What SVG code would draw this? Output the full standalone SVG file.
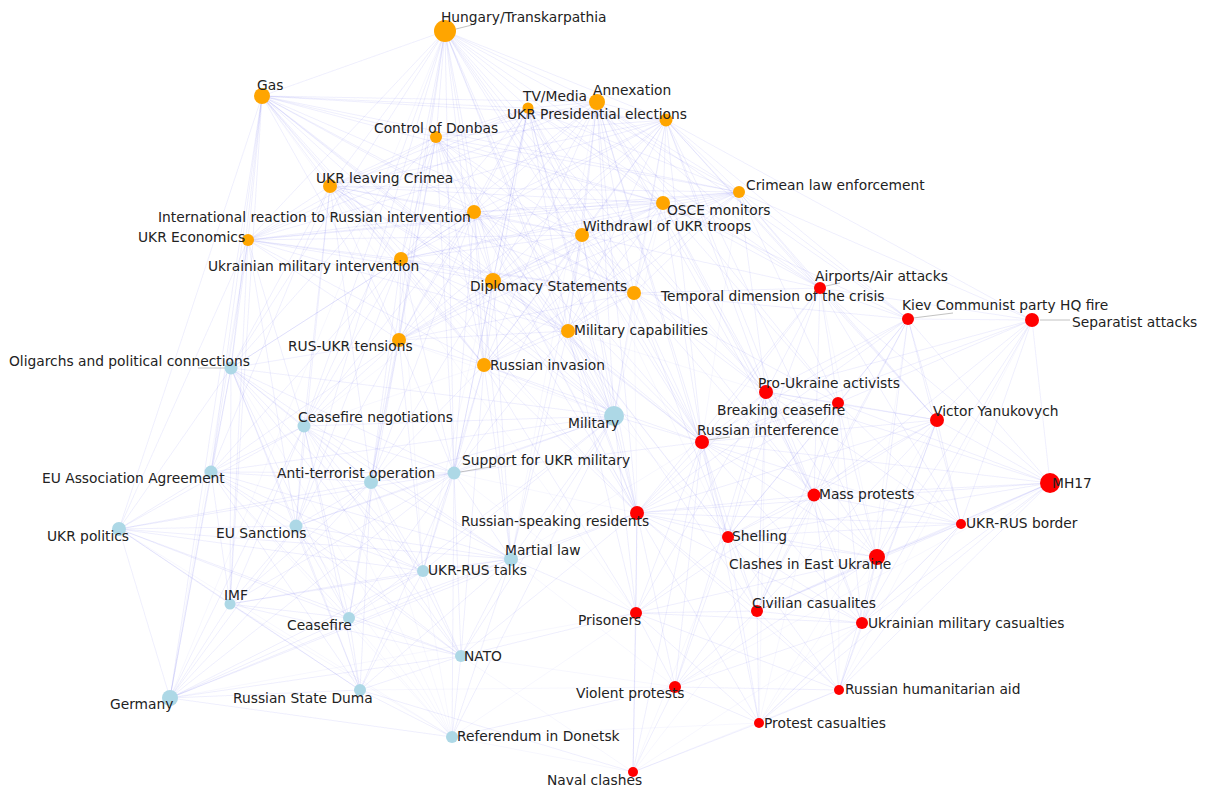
<svg xmlns="http://www.w3.org/2000/svg" width="1206" height="791" viewBox="0 0 1206 791">
<style>
.e{fill:none;stroke:#6a6af5;stroke-opacity:0.075;stroke-width:0.7;stroke-linejoin:round}
.ld{fill:none;stroke:#999;stroke-width:1;stroke-opacity:0.6}
.t{font-family:"DejaVu Sans","Liberation Sans",sans-serif;font-size:13.8px;fill:#222}
.o{fill:#FFA500}.r{fill:#FF0000}.b{fill:#ADD8E6}
</style>
<rect width="1206" height="791" fill="#fff"/>
<g id="connectors">
<path class="e" d="M445 31L262 96 445 31 528 108 445 31 597 102 445 31 666 120 445 31 436 137 445 31 330 186 445 31 739 192 445 31 474 212 445 31 663 203 445 31 248 240 445 31 582 235 445 31 401 259 445 31 493 281 445 31 634 293 445 31 568 331 445 31 399 340 445 31 484 365 445 31 231 368 445 31 614 416 445 31 304 426 445 31 454 473 445 31 371 482 445 31 296 526 445 31 702 442 445 31 637 513 445 31 766 392 445 31 820 288 445 31 814 495 445 31 170 698"/>
<path class="e" d="M262 96L528 108 262 96 597 102 262 96 666 120 262 96 436 137 262 96 330 186 262 96 739 192 262 96 474 212 262 96 663 203 262 96 248 240 262 96 582 235 262 96 401 259 262 96 493 281 262 96 634 293 262 96 568 331 262 96 399 340 262 96 484 365 262 96 231 368 262 96 211 472 262 96 119 529 262 96 230 604 262 96 170 698 262 96 614 416 262 96 637 513 262 96 702 442 262 96 636 613"/>
<path class="e" d="M528 108L597 102 528 108 666 120 528 108 436 137 528 108 330 186 528 108 739 192 528 108 474 212 528 108 663 203 528 108 248 240 528 108 582 235 528 108 401 259 528 108 493 281 528 108 634 293 528 108 568 331 528 108 399 340 528 108 484 365 528 108 820 288 528 108 766 392 528 108 702 442 528 108 637 513 528 108 614 416 528 108 454 473 528 108 423 571"/>
<path class="e" d="M597 102L666 120 597 102 436 137 597 102 330 186 597 102 739 192 597 102 474 212 597 102 663 203 597 102 248 240 597 102 582 235 597 102 401 259 597 102 493 281 597 102 634 293 597 102 568 331 597 102 399 340 597 102 484 365 597 102 820 288 597 102 908 319 597 102 766 392 597 102 838 403 597 102 702 442 597 102 814 495 597 102 637 513 597 102 728 537 597 102 614 416 597 102 511 559"/>
<path class="e" d="M666 120L436 137 666 120 330 186 666 120 739 192 666 120 474 212 666 120 663 203 666 120 248 240 666 120 582 235 666 120 401 259 666 120 493 281 666 120 634 293 666 120 568 331 666 120 399 340 666 120 484 365 666 120 820 288 666 120 908 319 666 120 1032 320 666 120 766 392 666 120 937 420 666 120 702 442 666 120 814 495 666 120 877 557 666 120 614 416"/>
<path class="e" d="M436 137L330 186 436 137 739 192 436 137 474 212 436 137 663 203 436 137 248 240 436 137 582 235 436 137 401 259 436 137 493 281 436 137 634 293 436 137 568 331 436 137 399 340 436 137 484 365 436 137 231 368 436 137 304 426 436 137 454 473 436 137 371 482 436 137 614 416 436 137 702 442 436 137 637 513"/>
<path class="e" d="M330 186L739 192 330 186 474 212 330 186 663 203 330 186 248 240 330 186 582 235 330 186 401 259 330 186 493 281 330 186 634 293 330 186 568 331 330 186 399 340 330 186 484 365 330 186 231 368 330 186 304 426 330 186 211 472 330 186 371 482 330 186 296 526 330 186 614 416 330 186 637 513"/>
<path class="e" d="M739 192L474 212 739 192 663 203 739 192 248 240 739 192 582 235 739 192 401 259 739 192 493 281 739 192 634 293 739 192 568 331 739 192 399 340 739 192 484 365 739 192 820 288 739 192 908 319 739 192 1032 320 739 192 766 392 739 192 838 403 739 192 937 420 739 192 702 442"/>
<path class="e" d="M474 212L663 203 474 212 248 240 474 212 582 235 474 212 401 259 474 212 493 281 474 212 634 293 474 212 568 331 474 212 399 340 474 212 484 365 474 212 231 368 474 212 614 416 474 212 304 426 474 212 454 473 474 212 371 482 474 212 511 559 474 212 702 442 474 212 637 513 474 212 728 537"/>
<path class="e" d="M663 203L248 240 663 203 582 235 663 203 401 259 663 203 493 281 663 203 634 293 663 203 568 331 663 203 399 340 663 203 484 365 663 203 820 288 663 203 908 319 663 203 766 392 663 203 838 403 663 203 702 442 663 203 814 495 663 203 614 416"/>
<path class="e" d="M248 240L582 235 248 240 401 259 248 240 493 281 248 240 634 293 248 240 568 331 248 240 399 340 248 240 484 365 248 240 231 368 248 240 304 426 248 240 211 472 248 240 119 529 248 240 296 526 248 240 230 604 248 240 170 698"/>
<path class="e" d="M582 235L401 259 582 235 493 281 582 235 634 293 582 235 568 331 582 235 399 340 582 235 484 365 582 235 820 288 582 235 766 392 582 235 702 442 582 235 637 513 582 235 614 416 582 235 454 473 582 235 511 559 582 235 728 537"/>
<path class="e" d="M401 259L493 281 401 259 634 293 401 259 568 331 401 259 399 340 401 259 484 365 401 259 231 368 401 259 304 426 401 259 211 472 401 259 371 482 401 259 296 526 401 259 454 473 401 259 614 416 401 259 423 571"/>
<path class="e" d="M493 281L634 293 493 281 568 331 493 281 399 340 493 281 484 365 493 281 614 416 493 281 454 473 493 281 371 482 493 281 511 559 493 281 702 442 493 281 637 513 493 281 304 426"/>
<path class="e" d="M634 293L568 331 634 293 399 340 634 293 484 365 634 293 820 288 634 293 908 319 634 293 766 392 634 293 838 403 634 293 702 442 634 293 814 495 634 293 728 537 634 293 614 416 634 293 637 513"/>
<path class="e" d="M568 331L399 340 568 331 484 365 568 331 614 416 568 331 454 473 568 331 511 559 568 331 702 442 568 331 637 513 568 331 728 537 568 331 757 611 568 331 636 613 568 331 766 392"/>
<path class="e" d="M399 340L484 365 399 340 231 368 399 340 304 426 399 340 211 472 399 340 371 482 399 340 296 526 399 340 423 571 399 340 349 618 399 340 454 473 399 340 614 416"/>
<path class="e" d="M484 365L614 416 484 365 454 473 484 365 371 482 484 365 511 559 484 365 423 571 484 365 461 656 484 365 702 442 484 365 637 513 484 365 636 613 484 365 304 426"/>
<path class="e" d="M820 288L908 319 820 288 1032 320 820 288 766 392 820 288 838 403 820 288 937 420 820 288 702 442 820 288 1050 483 820 288 814 495 820 288 637 513 820 288 961 524 820 288 728 537 820 288 877 557"/>
<path class="e" d="M908 319L1032 320 908 319 766 392 908 319 838 403 908 319 937 420 908 319 702 442 908 319 1050 483 908 319 814 495 908 319 637 513 908 319 961 524 908 319 728 537 908 319 877 557 908 319 757 611 908 319 862 623"/>
<path class="e" d="M1032 320L766 392 1032 320 838 403 1032 320 937 420 1032 320 702 442 1032 320 1050 483 1032 320 814 495 1032 320 961 524 1032 320 877 557 1032 320 862 623 1032 320 839 690"/>
<path class="e" d="M766 392L838 403 766 392 937 420 766 392 702 442 766 392 1050 483 766 392 814 495 766 392 637 513 766 392 961 524 766 392 728 537 766 392 877 557 766 392 757 611 766 392 636 613 766 392 862 623 766 392 675 687 766 392 759 723"/>
<path class="e" d="M838 403L937 420 838 403 702 442 838 403 1050 483 838 403 814 495 838 403 637 513 838 403 961 524 838 403 728 537 838 403 877 557 838 403 757 611 838 403 862 623 838 403 839 690"/>
<path class="e" d="M937 420L702 442 937 420 1050 483 937 420 814 495 937 420 637 513 937 420 961 524 937 420 728 537 937 420 877 557 937 420 757 611 937 420 862 623 937 420 839 690 937 420 759 723"/>
<path class="e" d="M702 442L1050 483 702 442 814 495 702 442 637 513 702 442 961 524 702 442 728 537 702 442 877 557 702 442 757 611 702 442 636 613 702 442 862 623 702 442 675 687 702 442 759 723 702 442 633 772 702 442 614 416 702 442 454 473 702 442 511 559"/>
<path class="e" d="M1050 483L814 495 1050 483 637 513 1050 483 961 524 1050 483 728 537 1050 483 877 557 1050 483 757 611 1050 483 862 623 1050 483 839 690 1050 483 759 723 1050 483 675 687"/>
<path class="e" d="M814 495L637 513 814 495 961 524 814 495 728 537 814 495 877 557 814 495 757 611 814 495 636 613 814 495 862 623 814 495 675 687 814 495 839 690 814 495 759 723"/>
<path class="e" d="M637 513L961 524 637 513 728 537 637 513 877 557 637 513 757 611 637 513 636 613 637 513 862 623 637 513 675 687 637 513 839 690 637 513 759 723 637 513 633 772 637 513 614 416 637 513 511 559 637 513 461 656 637 513 454 473"/>
<path class="e" d="M961 524L728 537 961 524 877 557 961 524 757 611 961 524 862 623 961 524 839 690 961 524 759 723"/>
<path class="e" d="M728 537L877 557 728 537 757 611 728 537 636 613 728 537 862 623 728 537 675 687 728 537 839 690 728 537 759 723 728 537 633 772"/>
<path class="e" d="M877 557L757 611 877 557 636 613 877 557 862 623 877 557 675 687 877 557 839 690 877 557 759 723"/>
<path class="e" d="M757 611L636 613 757 611 862 623 757 611 675 687 757 611 839 690 757 611 759 723 757 611 633 772"/>
<path class="e" d="M636 613L862 623 636 613 675 687 636 613 839 690 636 613 759 723 636 613 633 772 636 613 511 559 636 613 461 656 636 613 452 737"/>
<path class="e" d="M862 623L675 687 862 623 839 690 862 623 759 723 862 623 633 772"/>
<path class="e" d="M675 687L839 690 675 687 759 723 675 687 633 772 675 687 452 737 675 687 461 656"/>
<path class="e" d="M839 690L759 723 839 690 633 772"/>
<path class="e" d="M759 723L633 772 759 723 452 737"/>
<path class="e" d="M231 368L614 416 231 368 304 426 231 368 211 472 231 368 454 473 231 368 371 482 231 368 119 529 231 368 296 526 231 368 511 559 231 368 423 571 231 368 230 604 231 368 349 618 231 368 461 656 231 368 170 698 231 368 360 690 231 368 452 737"/>
<path class="e" d="M614 416L304 426 614 416 211 472 614 416 454 473 614 416 371 482 614 416 296 526 614 416 511 559 614 416 423 571 614 416 349 618 614 416 461 656 614 416 452 737 614 416 636 613 614 416 728 537"/>
<path class="e" d="M304 426L211 472 304 426 454 473 304 426 371 482 304 426 119 529 304 426 296 526 304 426 511 559 304 426 423 571 304 426 230 604 304 426 349 618 304 426 461 656 304 426 170 698 304 426 360 690 304 426 452 737"/>
<path class="e" d="M211 472L454 473 211 472 371 482 211 472 119 529 211 472 296 526 211 472 511 559 211 472 423 571 211 472 230 604 211 472 349 618 211 472 461 656 211 472 170 698 211 472 360 690 211 472 452 737"/>
<path class="e" d="M454 473L371 482 454 473 119 529 454 473 296 526 454 473 511 559 454 473 423 571 454 473 230 604 454 473 349 618 454 473 461 656 454 473 170 698 454 473 360 690 454 473 452 737 454 473 636 613"/>
<path class="e" d="M371 482L119 529 371 482 296 526 371 482 511 559 371 482 423 571 371 482 230 604 371 482 349 618 371 482 461 656 371 482 170 698 371 482 360 690 371 482 452 737"/>
<path class="e" d="M119 529L296 526 119 529 511 559 119 529 423 571 119 529 230 604 119 529 349 618 119 529 461 656 119 529 170 698 119 529 360 690 119 529 452 737"/>
<path class="e" d="M296 526L511 559 296 526 423 571 296 526 230 604 296 526 349 618 296 526 461 656 296 526 170 698 296 526 360 690 296 526 452 737"/>
<path class="e" d="M511 559L423 571 511 559 230 604 511 559 349 618 511 559 461 656 511 559 170 698 511 559 360 690 511 559 452 737 511 559 675 687"/>
<path class="e" d="M423 571L230 604 423 571 349 618 423 571 461 656 423 571 170 698 423 571 360 690 423 571 452 737"/>
<path class="e" d="M230 604L349 618 230 604 461 656 230 604 170 698 230 604 360 690 230 604 452 737"/>
<path class="e" d="M349 618L461 656 349 618 170 698 349 618 360 690 349 618 452 737"/>
<path class="e" d="M461 656L170 698 461 656 360 690 461 656 452 737 461 656 633 772"/>
<path class="e" d="M170 698L360 690 170 698 452 737 170 698 637 513 170 698 636 613"/>
<path class="e" d="M360 690L452 737 360 690 633 772 360 690 675 687"/>
<path class="e" d="M452 737L633 772"/>
<path class="ld" d="M456 29L472 25M913 318L953 313M1040 320L1070 320M826 286L840 283M198 368L226 368M460 472L496 466M708 440L730 437"/>
</g>
<g id="n-hungary"><circle class="o" cx="445" cy="31" r="11"/><text class="t" x="441" y="22">Hungary/Transkarpathia</text></g>
<g id="n-gas"><circle class="o" cx="262" cy="96" r="8"/><text class="t" x="257" y="90">Gas</text></g>
<g id="n-tvmedia"><circle class="o" cx="528" cy="108" r="5.5"/><text class="t" x="523" y="101">TV/Media</text></g>
<g id="n-annexation"><circle class="o" cx="597" cy="102" r="8"/><text class="t" x="593" y="95">Annexation</text></g>
<g id="n-ukr-presidential"><circle class="o" cx="666" cy="120" r="6.5"/><text class="t" x="507" y="119">UKR Presidential elections</text></g>
<g id="n-donbas"><circle class="o" cx="436" cy="137" r="6"/><text class="t" x="374" y="133">Control of Donbas</text></g>
<g id="n-leaving-crimea"><circle class="o" cx="330" cy="186" r="7"/><text class="t" x="316" y="183">UKR leaving Crimea</text></g>
<g id="n-crimean-law"><circle class="o" cx="739" cy="192" r="6"/><text class="t" x="746" y="190">Crimean law enforcement</text></g>
<g id="n-intl-reaction"><circle class="o" cx="474" cy="212" r="7"/><text class="t" x="158" y="222">International reaction to Russian intervention</text></g>
<g id="n-osce"><circle class="o" cx="663" cy="203" r="7"/><text class="t" x="667" y="215">OSCE monitors</text></g>
<g id="n-ukr-economics"><circle class="o" cx="248" cy="240" r="6"/><text class="t" x="138" y="242">UKR Economics</text></g>
<g id="n-withdrawl"><circle class="o" cx="582" cy="235" r="7"/><text class="t" x="583" y="231">Withdrawl of UKR troops</text></g>
<g id="n-ukr-mil-intervention"><circle class="o" cx="401" cy="259" r="7"/><text class="t" x="208" y="271">Ukrainian military intervention</text></g>
<g id="n-diplomacy"><circle class="o" cx="493" cy="281" r="8"/><text class="t" x="470" y="291">Diplomacy Statements</text></g>
<g id="n-temporal"><circle class="o" cx="634" cy="293" r="7"/><text class="t" x="661" y="301">Temporal dimension of the crisis</text></g>
<g id="n-mil-capabilities"><circle class="o" cx="568" cy="331" r="7"/><text class="t" x="574" y="335">Military capabilities</text></g>
<g id="n-rus-ukr-tensions"><circle class="o" cx="399" cy="340" r="7"/><text class="t" x="288" y="351">RUS-UKR tensions</text></g>
<g id="n-russian-invasion"><circle class="o" cx="484" cy="365" r="7"/><text class="t" x="490" y="370">Russian invasion</text></g>
<g id="n-airports"><circle class="r" cx="820" cy="288" r="6"/><text class="t" x="815" y="281">Airports/Air attacks</text></g>
<g id="n-kiev-hq"><circle class="r" cx="908" cy="319" r="6"/><text class="t" x="902" y="310">Kiev Communist party HQ fire</text></g>
<g id="n-separatist"><circle class="r" cx="1032" cy="320" r="7"/><text class="t" x="1072" y="327">Separatist attacks</text></g>
<g id="n-pro-ukraine"><circle class="r" cx="766" cy="392" r="7"/><text class="t" x="758" y="388">Pro-Ukraine activists</text></g>
<g id="n-breaking-ceasefire"><circle class="r" cx="838" cy="403" r="6"/><text class="t" x="717" y="415">Breaking ceasefire</text></g>
<g id="n-yanukovych"><circle class="r" cx="937" cy="420" r="7"/><text class="t" x="933" y="416">Victor Yanukovych</text></g>
<g id="n-rus-interference"><circle class="r" cx="702" cy="442" r="7"/><text class="t" x="697" y="435">Russian interference</text></g>
<g id="n-mh17"><circle class="r" cx="1050" cy="483" r="10"/><text class="t" x="1052" y="488">MH17</text></g>
<g id="n-mass-protests"><circle class="r" cx="814" cy="495" r="6.5"/><text class="t" x="819" y="499">Mass protests</text></g>
<g id="n-rus-speaking"><circle class="r" cx="637" cy="513" r="7"/><text class="t" x="461" y="526">Russian-speaking residents</text></g>
<g id="n-border"><circle class="r" cx="961" cy="524" r="5"/><text class="t" x="966" y="528">UKR-RUS border</text></g>
<g id="n-shelling"><circle class="r" cx="728" cy="537" r="6"/><text class="t" x="732" y="541">Shelling</text></g>
<g id="n-clashes"><circle class="r" cx="877" cy="557" r="8"/><text class="t" x="729" y="569">Clashes in East Ukraine</text></g>
<g id="n-civilian"><circle class="r" cx="757" cy="611" r="6"/><text class="t" x="752" y="608">Civilian casualites</text></g>
<g id="n-prisoners"><circle class="r" cx="636" cy="613" r="6"/><text class="t" x="578" y="625">Prisoners</text></g>
<g id="n-ukr-mil-casualties"><circle class="r" cx="862" cy="623" r="6"/><text class="t" x="868" y="628">Ukrainian military casualties</text></g>
<g id="n-violent"><circle class="r" cx="675" cy="687" r="6"/><text class="t" x="576" y="698">Violent protests</text></g>
<g id="n-humanitarian"><circle class="r" cx="839" cy="690" r="5"/><text class="t" x="845" y="694">Russian humanitarian aid</text></g>
<g id="n-protest-casualties"><circle class="r" cx="759" cy="723" r="5"/><text class="t" x="764" y="728">Protest casualties</text></g>
<g id="n-naval"><circle class="r" cx="633" cy="772" r="5"/><text class="t" x="547" y="785">Naval clashes</text></g>
<g id="n-oligarchs"><circle class="b" cx="231" cy="368" r="6.5"/><text class="t" x="9" y="366">Oligarchs and political connections</text></g>
<g id="n-military"><circle class="b" cx="614" cy="416" r="10"/><text class="t" x="568" y="428">Military</text></g>
<g id="n-ceasefire-neg"><circle class="b" cx="304" cy="426" r="6.5"/><text class="t" x="298" y="422">Ceasefire negotiations</text></g>
<g id="n-eu-association"><circle class="b" cx="211" cy="472" r="6.5"/><text class="t" x="42" y="483">EU Association Agreement</text></g>
<g id="n-support"><circle class="b" cx="454" cy="473" r="6.5"/><text class="t" x="462" y="465">Support for UKR military</text></g>
<g id="n-ato"><circle class="b" cx="371" cy="482" r="7"/><text class="t" x="277" y="478">Anti-terrorist operation</text></g>
<g id="n-ukr-politics"><circle class="b" cx="119" cy="529" r="7"/><text class="t" x="47" y="541">UKR politics</text></g>
<g id="n-eu-sanctions"><circle class="b" cx="296" cy="526" r="6.5"/><text class="t" x="216" y="538">EU Sanctions</text></g>
<g id="n-martial-law"><circle class="b" cx="511" cy="559" r="7"/><text class="t" x="505" y="555">Martial law</text></g>
<g id="n-talks"><circle class="b" cx="423" cy="571" r="6"/><text class="t" x="428" y="575">UKR-RUS talks</text></g>
<g id="n-imf"><circle class="b" cx="230" cy="604" r="5.5"/><text class="t" x="224" y="600">IMF</text></g>
<g id="n-ceasefire"><circle class="b" cx="349" cy="618" r="6"/><text class="t" x="287" y="630">Ceasefire</text></g>
<g id="n-nato"><circle class="b" cx="461" cy="656" r="6"/><text class="t" x="464" y="661">NATO</text></g>
<g id="n-germany"><circle class="b" cx="170" cy="698" r="8"/><text class="t" x="110" y="709">Germany</text></g>
<g id="n-duma"><circle class="b" cx="360" cy="690" r="6"/><text class="t" x="233" y="703">Russian State Duma</text></g>
<g id="n-referendum"><circle class="b" cx="452" cy="737" r="6"/><text class="t" x="457" y="741">Referendum in Donetsk</text></g>
</svg>
